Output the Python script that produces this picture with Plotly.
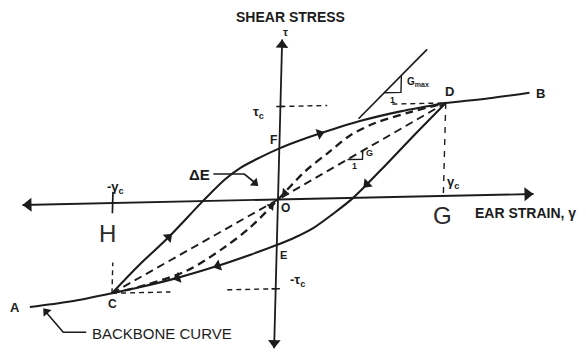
import numpy as np
import plotly.graph_objects as go

# Cyclic shear stress-strain loop with its backbone curve.
# Strain is expressed in units of the cyclic strain amplitude (gamma_c),
# stress in units of the cyclic stress amplitude (tau_c).

peak_strain = [-0.98, 0.99]          # reversal points C and D
peak_stress = [-0.97, 1.00]

# reloading branch C -> F -> D
reload_strain = [-0.98, -0.82, -0.65, -0.45, -0.32, -0.23, -0.11, 0.00, 0.12, 0.24, 0.49, 0.72, 0.99]
reload_stress = [-0.97, -0.67, -0.38, 0.00, 0.23, 0.35, 0.46, 0.55, 0.63, 0.70, 0.83, 0.92, 1.00]

# unloading branch D -> E -> C
unload_strain = [0.99, 0.80, 0.61, 0.45, 0.33, 0.22, 0.11, 0.00, -0.16, -0.35, -0.59, -0.81, -0.98]
unload_stress = [1.00, 0.65, 0.29, 0.00, -0.17, -0.31, -0.41, -0.49, -0.59, -0.70, -0.82, -0.91, -0.97]

# backbone curve A -> C -> O -> D -> B
backbone_strain = [-1.47, -1.23, -0.98, -0.78, -0.53, -0.32, -0.16, 0.00, 0.16, 0.30, 0.42, 0.57, 0.78, 0.99, 1.25, 1.49]
backbone_stress = [-1.10, -1.05, -0.97, -0.89, -0.74, -0.51, -0.29, 0.00, 0.30, 0.50, 0.67, 0.80, 0.91, 1.00, 1.04, 1.09]

# initial tangent (G_max) line
gmax_strain = [0.47, 0.87]
gmax_stress = [0.85, 1.58]

strain_ticks = [-0.99, 0.99]
strain_tick_labels = ["-γ<sub>c</sub>", "γ<sub>c</sub>"]
stress_ticks = [-0.96, 1.00]
stress_tick_labels = ["-τ<sub>c</sub>", "τ<sub>c</sub>"]

strain_axis = [-1.53, 1.53]
stress_axis = [-1.60, 1.72]

# ---------------------------------------------------------------------------
# Sketch frame: the hand-drawn axes are slightly skewed, so diagram
# coordinates are mapped onto the page through a small affine transform.
OX, OY = 278.0, 199.5
SX, SY = 167.0, 93.0
KX, KY = 0.026, 0.0215

INK = "#1c1c1c"
FONT = "Liberation Sans, Arial, sans-serif"
W, H = 586, 352
LW = 2.1      # loop and backbone stroke


def frame(u, v):
    u = np.asarray(u, dtype=float)
    v = np.asarray(v, dtype=float)
    return OX + SX * u + KX * SY * v, OY - SY * v - KY * SX * u


fig = go.Figure()


def line(u, v, dash="solid", width=1.8, shape="linear", color=INK):
    x, y = frame(u, v)
    fig.add_trace(go.Scatter(x=x, y=y, mode="lines", hoverinfo="skip",
                             line=dict(color=color, width=width, dash=dash,
                                       shape=shape, smoothing=0.9)))


def px_line(xs, ys, width=1.6, dash="solid"):
    fig.add_trace(go.Scatter(x=xs, y=ys, mode="lines", hoverinfo="skip",
                             line=dict(color=INK, width=width, dash=dash)))


def head(x_tip, y_tip, x_from, y_from, size=10):
    """Filled triangular arrowhead whose point sits at (x_tip, y_tip)."""
    dx, dy = x_tip - x_from, y_tip - y_from
    n = np.hypot(dx, dy)
    ux, uy = dx / n, dy / n
    cx, cy = x_tip - ux * size / 2, y_tip - uy * size / 2
    ang = float(np.degrees(np.arctan2(ux, -uy)))
    fig.add_trace(go.Scatter(x=[cx], y=[cy], mode="markers", hoverinfo="skip",
                             marker=dict(symbol="triangle-up", size=size, angle=ang,
                                         color=INK, line=dict(width=0))))


def curve_arrow(strain, stress, at, direction, size=10):
    s = np.asarray(strain, dtype=float)
    t = np.asarray(stress, dtype=float)
    order = np.argsort(s)
    u0 = at - direction * 0.04
    v = np.interp([u0, at], s[order], t[order])
    x, y = frame([u0, at], v)
    ang = float(np.degrees(np.arctan2(x[1] - x[0], -(y[1] - y[0]))))
    fig.add_trace(go.Scatter(x=[x[1]], y=[y[1]], mode="markers", hoverinfo="skip",
                             marker=dict(symbol="triangle-up", size=size, angle=ang,
                                         color=INK, line=dict(width=0))))


def label(u, v, text, shift=(0, 0), size=12, bold=True, anchor="center", color=INK):
    x, y = frame(u, v)
    fig.add_annotation(x=float(x), y=float(y), text=f"<b>{text}</b>" if bold else text,
                       showarrow=False, xshift=shift[0], yshift=-shift[1],
                       xanchor=anchor, yanchor="middle",
                       font=dict(family=FONT, size=size, color=color))


# ---- axes -----------------------------------------------------------------
line(strain_axis, [0, 0], width=1.8)
line([0, 0], stress_axis, width=1.8)
for end, back in ((strain_axis[0], strain_axis[0] + 0.12), (strain_axis[1], strain_axis[1] - 0.12)):
    (xt, xb), (yt, yb) = frame([end, back], [0, 0])
    head(xt, yt, xb, yb, size=12)
for end, back in ((stress_axis[0], stress_axis[0] + 0.2), (stress_axis[1], stress_axis[1] - 0.2)):
    (xt, xb), (yt, yb) = frame([0, 0], [end, back])
    head(xt, yt, xb, yb, size=11)

# ticks
line([strain_ticks[0]] * 2, [0.12, -0.11], width=1.7)
for st in stress_ticks:
    line([-0.025, 0.025], [st, st], width=1.5)

# ---- dashed guide lines ---------------------------------------------------
C = (peak_strain[0], peak_stress[0])
D = (peak_strain[1], peak_stress[1])
guide = dict(dash="5px,4px", width=1.4)
line([0, 0.28], [stress_ticks[1]] * 2, **guide)
line([-0.29, 0], [stress_ticks[0]] * 2, **guide)
line([0.67, D[0]], [D[1], D[1]], **guide)
line([D[0], strain_ticks[1]], [D[1], 0], dash="6px,6px", width=1.4)
line([C[0], -0.63], [C[1], C[1]], **guide)
line([C[0], C[0]], [C[1], -0.64], **guide)

# ---- backbone -------------------------------------------------------------
bs = np.array(backbone_strain)
bt = np.array(backbone_stress)
left = bs <= C[0] + 1e-9
right = bs >= D[0] - 1e-9
inner = (bs >= C[0] - 1e-9) & (bs <= D[0] + 1e-9)
line(bs[left], bt[left], width=LW, shape="spline")
line(bs[right], bt[right], width=LW, shape="spline")
line(bs[inner], bt[inner], dash="8px,5px", width=2.3, shape="spline")

# secant modulus lines C-O-D
line([C[0], 0, D[0]], [C[1], 0, D[1]], dash="8px,5px", width=1.9)

# ---- hysteresis loop --------------------------------------------------------
line(reload_strain, reload_stress, width=LW, shape="spline")
line(unload_strain, unload_stress, width=LW, shape="spline")

curve_arrow(reload_strain, reload_stress, -0.65, +1)
curve_arrow(reload_strain, reload_stress, 0.24, +1)
curve_arrow(unload_strain, unload_stress, 0.53, -1)
curve_arrow(unload_strain, unload_stress, -0.35, -1)
curve_arrow(unload_strain, unload_stress, -0.59, -1)
curve_arrow(backbone_strain, backbone_stress, -0.04, +1, size=8)
curve_arrow(backbone_strain, backbone_stress, 0.04, -1, size=8)

# ---- G_max tangent and slope triangles ----------------------------------
line(gmax_strain, gmax_stress, width=1.7)
g_max = (gmax_stress[1] - gmax_stress[0]) / (gmax_strain[1] - gmax_strain[0])
u1, u2 = 0.62, 0.72
vb = gmax_stress[0] + (u1 - gmax_strain[0]) * g_max
vt = gmax_stress[0] + (u2 - gmax_strain[0]) * g_max
line([u1, u2, u2], [vb, vb, vt], width=1.4)
label((u1 + u2) / 2, vb, "1", shift=(0, 7), size=9)
label(u2, (vb + vt) / 2, "G<sub>max</sub>", shift=(17, -2), size=10)

g_sec = D[1] / D[0]
s1, s2 = 0.41, 0.50
line([s1, s2, s2], [s1 * g_sec, s1 * g_sec, s2 * g_sec], width=1.4)
label((s1 + s2) / 2, s1 * g_sec, "1", shift=(0, 7), size=9)
label(s2, (s1 + s2) / 2 * g_sec, "G", shift=(7, -2), size=9)

# ---- point labels -----------------------------------------------------------
order_r = np.argsort(reload_strain)
order_u = np.argsort(unload_strain)
F_v = float(np.interp(0, np.array(reload_strain)[order_r], np.array(reload_stress)[order_r]))
E_v = float(np.interp(0, np.array(unload_strain)[order_u], np.array(unload_stress)[order_u]))

label(*D, "D", shift=(4, -11), size=13)
label(bs[-1], bt[-1], "B", shift=(11, 1), size=13)
label(*C, "C", shift=(1, 11), size=12)
label(bs[0], bt[0], "A", shift=(-15, 0), size=13)
label(0, E_v, "E", shift=(7, 10), size=11)
label(0, F_v, "F", shift=(-6, -8), size=12)
label(0, 0, "O", shift=(7, 8), size=12)

label(0, stress_ticks[1], stress_tick_labels[1], shift=(-22, 6), size=13)
label(0, stress_ticks[0], stress_tick_labels[0], shift=(22, -8), size=13)
label(strain_ticks[1], 0, strain_tick_labels[1], shift=(10, -13), size=13)
label(strain_ticks[0], 0, strain_tick_labels[0], shift=(3, -16), size=13)
label(strain_ticks[0], 0, "H", shift=(-5, 30), size=24, bold=False, color="#2a2a2a")
label(strain_ticks[1], 0, "G", shift=(-1, 20), size=24, bold=False, color="#2a2a2a")

# axis titles
label(0, stress_axis[1], "SHEAR STRESS", shift=(8, -23), size=14)
label(0, stress_axis[1], "τ", shift=(3, -8), size=11)
label(strain_axis[1], 0, "EAR STRAIN, γ", shift=(-61, 19), size=14, anchor="left")

# ---- energy-loss pointer ----------------------------------------------------
tx, ty = frame(-0.12, 0.15)
tx, ty = float(tx), float(ty)
label(-0.12, 0.15, "ΔE", shift=(-59, -11), size=15)
px_line([tx - 45, tx - 14, tx - 3], [ty - 12, ty - 12, ty - 3], width=1.7)
head(tx, ty, tx - 14, ty - 12, size=9)

# ---- backbone leader ------------------------------------------------------
lu = -1.39
lv = float(np.interp(lu, bs, bt))
lx, ly = frame(lu, lv)
lx, ly = float(lx), float(ly)
px_line([lx + 2, lx + 20, lx + 43], [ly + 6, ly + 27, ly + 27], width=1.6)
head(lx, ly + 3, lx + 20, ly + 27, size=9)
label(lu, lv, "BACKBONE CURVE", shift=(47, 28), size=15, bold=False, anchor="left")

fig.update_layout(
    width=W, height=H,
    margin=dict(l=0, r=0, t=0, b=0),
    paper_bgcolor="white", plot_bgcolor="white",
    showlegend=False,
    xaxis=dict(range=[0, W], visible=False, fixedrange=True),
    yaxis=dict(range=[H, 0], visible=False, fixedrange=True),
)

fig.write_html("out.html")
